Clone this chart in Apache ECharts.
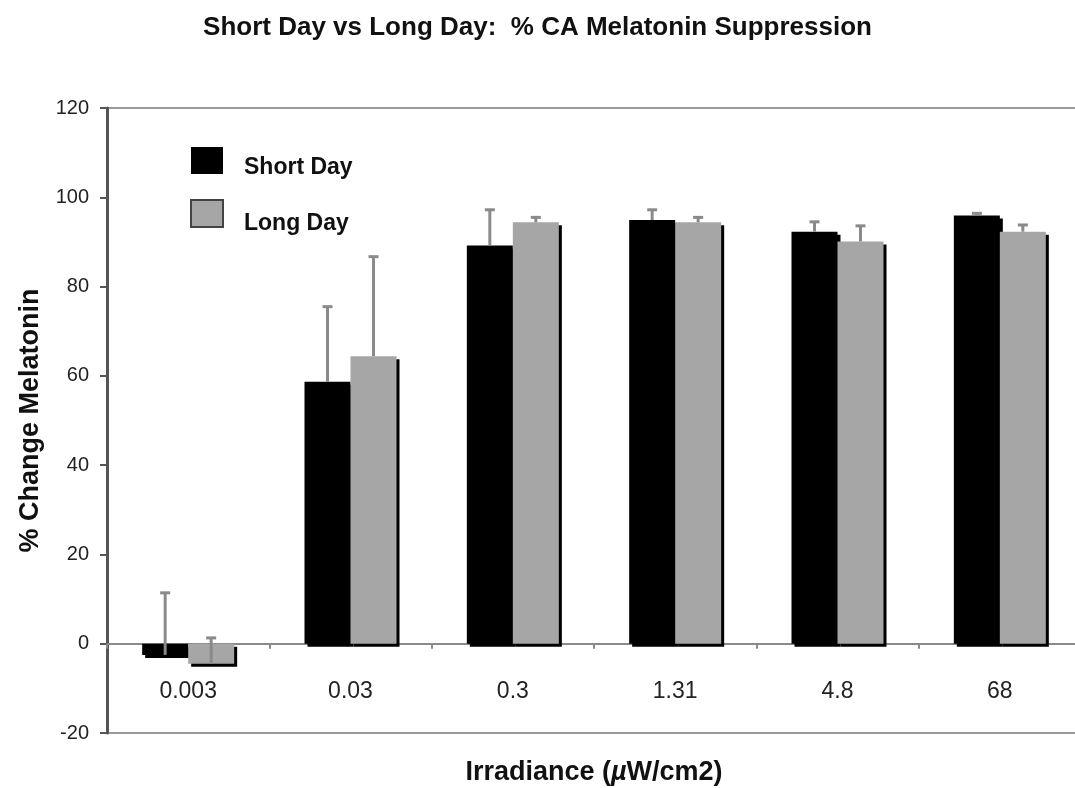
<!DOCTYPE html>
<html>
<head>
<meta charset="utf-8">
<script src="https://cdn.jsdelivr.net/npm/echarts@6/dist/echarts.min.js"></script>
<style>
  html, body { margin: 0; padding: 0; background: #fff; }
  #chart { width: 1075px; height: 788px; }
</style>
</head>
<body>
<div id="chart"></div>
<script>
// Irradiance levels (µW/cm2)
const categories = ['0.003', '0.03', '0.3', '1.31', '4.8', '68'];

// Mean % change in melatonin
const shortDay = [-2.5, 58.7, 89.2, 94.9, 92.3, 95.9];
const longDay = [-4.5, 64.4, 94.4, 94.4, 90.1, 92.3];

// Upper error (+SEM)
const shortDayErr = [13.9, 16.8, 8.0, 2.3, 2.2, 0.5];
const longDayErr = [5.8, 22.3, 1.1, 1.1, 3.5, 1.5];

const yTicks = { min: -20, max: 120, interval: 20 };

const BAR_W = 46;
const FONT = '"Liberation Sans", Arial, Helvetica, sans-serif';

function errorSeries(name, values, errs, offset) {
  return {
    type: 'custom',
    name: name + ' error',
    z: 5,
    silent: true,
    data: values.map((v, i) => [i, v, v + errs[i]]),
    renderItem: function (params, api) {
      const base = api.coord([api.value(0), api.value(1)]);
      const top = api.coord([api.value(0), api.value(2)]);
      const x = base[0] + offset;
      const style = { stroke: '#8a8a8a', lineWidth: 3 };
      return {
        type: 'group',
        children: [
          { type: 'line', shape: { x1: x, y1: base[1], x2: x, y2: top[1] }, style: style },
          { type: 'line', shape: { x1: x - 5, y1: top[1], x2: x + 5, y2: top[1] }, style: style }
        ]
      };
    }
  };
}

const barShadow = { shadowColor: '#000', shadowBlur: 0, shadowOffsetX: 3, shadowOffsetY: 3 };
const noShadow = { shadowBlur: 0, shadowOffsetX: 0, shadowOffsetY: 0, shadowColor: 'transparent' };
const legendText = { fontFamily: FONT, fontWeight: 'bold', fontSize: 23, color: '#111' };

const chart = echarts.init(document.getElementById('chart'));
chart.setOption({
  animation: false,
  backgroundColor: '#fff',
  title: {
    text: 'Short Day vs Long Day:  % CA Melatonin Suppression',
    left: 'center',
    top: 10,
    textStyle: { fontFamily: '"Liberation Sans Narrow", ' + FONT, fontWeight: 'bold', fontSize: 26, color: '#111' }
  },
  legend: {
    orient: 'vertical',
    left: 185,
    top: 142,
    itemWidth: 32,
    itemHeight: 27,
    itemGap: 20,
    icon: 'rect',
    data: [
      { name: 'Short Day', itemStyle: Object.assign({ color: '#000' }, noShadow) },
      { name: 'Long Day', itemStyle: Object.assign({ color: '#a6a6a6', borderColor: '#444', borderWidth: 2 }, noShadow) }
    ],
    formatter: function (name) {
      return name === 'Short Day' ? '{s|' + name + '}' : '{l|' + name + '}';
    },
    textStyle: Object.assign({
      padding: [0, 0, 0, 16],
      rich: {
        s: Object.assign({ padding: [14, 0, 0, 0] }, legendText),
        l: Object.assign({ padding: [20, 0, 0, 0] }, legendText)
      }
    }, legendText)
  },
  grid: {
    left: 107,
    top: 108,
    width: 974,
    height: 625,
    show: true,
    borderColor: '#9a9a9a',
    borderWidth: 2,
    containLabel: false,
    outerBoundsMode: 'none'
  },
  xAxis: [
    {
      // zero line with the separating ticks
      type: 'category',
      data: categories,
      axisLine: { onZero: true, lineStyle: { color: '#8a8a8a', width: 2 } },
      axisTick: { show: true, alignWithLabel: false, length: 5, lineStyle: { color: '#8a8a8a', width: 2 } },
      axisLabel: { show: false },
      splitLine: { show: false }
    },
    {
      // category labels and axis title along the bottom
      type: 'category',
      data: categories,
      position: 'bottom',
      name: '{a|Irradiance (}{b|µ}{a|W/cm2)}',
      nameLocation: 'middle',
      nameGap: 26,
      nameTextStyle: {
        rich: {
          a: { fontFamily: FONT, fontWeight: 'bold', fontSize: 27, color: '#111' },
          b: { fontFamily: FONT, fontWeight: 'bold', fontStyle: 'italic', fontSize: 27, color: '#111' }
        }
      },
      axisLine: { show: false, onZero: false },
      axisTick: { show: false },
      axisLabel: { margin: -53, fontFamily: FONT, fontSize: 23, color: '#222' },
      splitLine: { show: false }
    }
  ],
  yAxis: {
    type: 'value',
    min: yTicks.min,
    max: yTicks.max,
    interval: yTicks.interval,
    name: '% Change Melatonin',
    nameLocation: 'middle',
    nameGap: 63,
    nameTextStyle: { fontFamily: FONT, fontWeight: 'bold', fontSize: 27, color: '#111' },
    axisLine: { show: true, lineStyle: { color: '#555', width: 3 } },
    axisTick: { show: true, length: 7, lineStyle: { color: '#555', width: 2 } },
    axisLabel: { margin: 18, fontFamily: FONT, fontSize: 20, color: '#222' },
    splitLine: { show: false }
  },
  series: [
    {
      name: 'Short Day',
      type: 'bar',
      data: shortDay,
      barWidth: BAR_W,
      barGap: '0%',
      itemStyle: Object.assign({ color: '#000' }, barShadow)
    },
    {
      name: 'Long Day',
      type: 'bar',
      data: longDay,
      barWidth: BAR_W,
      barGap: '0%',
      itemStyle: Object.assign({ color: '#a6a6a6' }, barShadow)
    },
    errorSeries('Short Day', shortDay, shortDayErr, -BAR_W / 2),
    errorSeries('Long Day', longDay, longDayErr, BAR_W / 2)
  ]
});
</script>
</body>
</html>
